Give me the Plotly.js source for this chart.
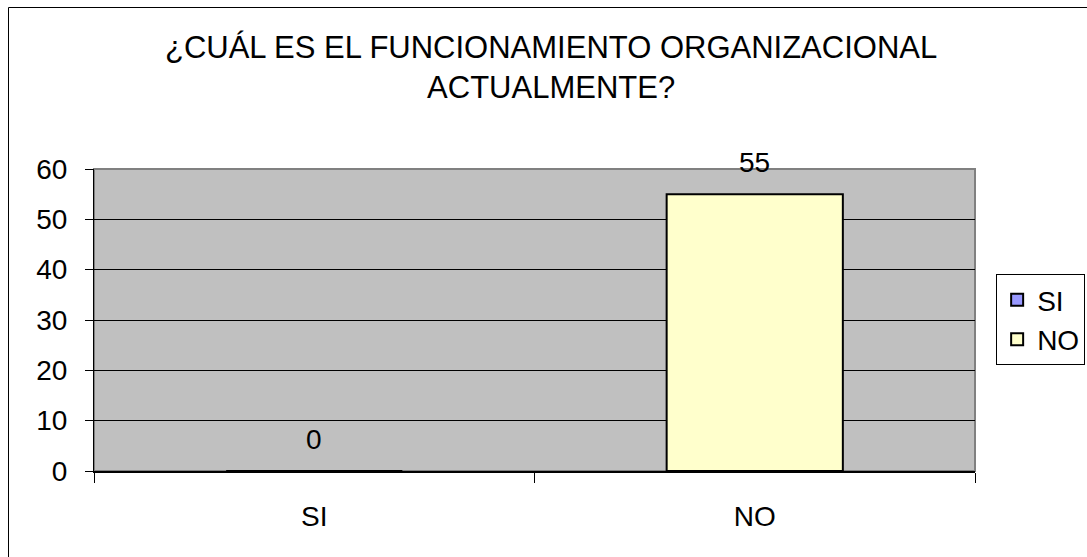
<!DOCTYPE html>
<html>
<head>
<meta charset="utf-8">
<script src="https://cdn.plot.ly/plotly-3.0.1.min.js"></script>
<style>
html,body{margin:0;padding:0;background:#fff;}
#chart{width:1087px;height:557px;}
</style>
</head>
<body>
<div id="chart"></div>
<script>
const categories = ['SI', 'NO'];
const seriesNames = ['SI', 'NO'];
const seriesValues = [0, 55];
const seriesColors = ['#9999FF', '#FFFFCC'];
const yTickValues = [0, 10, 20, 30, 40, 50, 60];
const titleText = '¿CUÁL ES EL FUNCIONAMIENTO ORGANIZACIONAL<br>ACTUALMENTE?';

const FONT = 'Liberation Sans, Arial, sans-serif';
const FS = 28;

const traces = seriesNames.map((name, i) => ({
  type: 'bar',
  name: name,
  x: [categories[i]],
  y: [seriesValues[i]],
  width: 0.4,
  marker: {color: seriesColors[i], line: {color: '#000', width: 2}},
  hoverinfo: 'x+y'
}));

const annotations = categories.map((c, i) => ({
  x: c, y: seriesValues[i], xref: 'x', yref: 'y',
  text: String(seriesValues[i]),
  showarrow: false, yanchor: 'bottom', yshift: 14,
  font: {family: FONT, size: FS, color: '#000'}
}));

const layout = {
  width: 1087, height: 557,
  margin: {l: 94, r: 112, t: 169, b: 86, pad: 0, autoexpand: false},
  paper_bgcolor: '#fff',
  plot_bgcolor: '#C0C0C0',
  barmode: 'overlay',
  showlegend: true,
  font: {family: FONT, size: FS, color: '#000'},
  title: {
    text: titleText,
    font: {family: FONT, size: 31, color: '#000'},
    x: 0.507, xref: 'container', xanchor: 'center',
    y: 1 - 58/557, yref: 'container', yanchor: 'top'
  },
  xaxis: {
    type: 'category',
    categoryorder: 'array', categoryarray: categories,
    range: [-0.5, 1.5],
    showgrid: false,
    showline: true, linecolor: '#000', linewidth: 2,
    ticks: 'outside', tickson: 'boundaries', ticklen: 10, tickcolor: '#000', tickwidth: 1,
    tickfont: {family: FONT, size: FS, color: '#000'},
    ticklabelstandoff: 19,
    zeroline: false, fixedrange: true
  },
  yaxis: {
    range: [0, 60],
    tickvals: yTickValues,
    showgrid: true, gridcolor: '#000', gridwidth: 1,
    showline: true, linecolor: '#000', linewidth: 1,
    ticks: 'outside', ticklen: 8, tickcolor: '#000',
    tickfont: {family: FONT, size: FS, color: '#000'},
    ticklabelstandoff: 12,
    zeroline: false, fixedrange: true
  },
  legend: {
    x: 1.024, xanchor: 'left', y: 0.652, yanchor: 'top',
    bgcolor: '#fff', bordercolor: '#000', borderwidth: 1,
    font: {family: FONT, size: FS, color: '#000'},
    itemwidth: 30, tracegroupgap: 0
  },
  annotations: annotations,
  shapes: [
    {type: 'rect', xref: 'paper', yref: 'paper', x0: 0, x1: 1, y0: 0, y1: 1,
     line: {color: '#808080', width: 2}, fillcolor: 'rgba(0,0,0,0)', layer: 'below'},
    {type: 'rect', xref: 'paper', yref: 'paper',
     x0: (8.5 - 94) / 881, x1: 2, y0: -1, y1: (471 - 7.5) / 302,
     line: {color: '#000', width: 1}, fillcolor: 'rgba(0,0,0,0)', layer: 'above'}
  ]
};

Plotly.newPlot('chart', traces, layout, {displayModeBar: false, staticPlot: true});
</script>
</body>
</html>
